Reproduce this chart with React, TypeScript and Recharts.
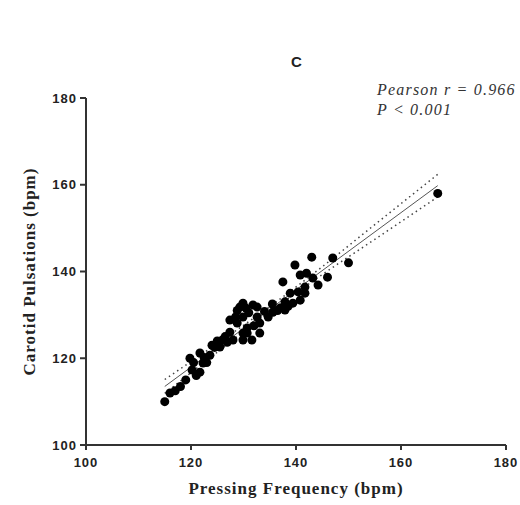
import { ComposedChart, Label, Line, Scatter, XAxis, YAxis } from "recharts";

// Pressing frequency (bpm) vs carotid pulsations (bpm), one entry per subject
const pressFreq = [
  115, 116, 117, 118, 119, 119.8, 120.2, 120.5, 121, 121.7, 121.7, 122.3, 122.5, 123, 123.6, 124, 124.5, 125,
  125.5, 126, 126.5, 126.9, 127.4, 127.4, 128, 128.5, 128.8, 128.8, 129.3, 129.9, 129.9, 129.9, 129.9, 130.5,
  130.7, 130.7, 131, 131.6, 131.8, 132, 132.6, 132.6, 133.1, 133.1, 134, 134.7, 135.5, 135.6, 136.5, 137, 137.5,
  137.9, 137.9, 138.5, 138.9, 139.4, 139.8, 140.4, 140.8, 140.8, 141.7, 141.7, 142, 143, 143.2, 144.2, 146, 147,
  150, 167
];
const carotid = [
  110, 112, 112.5, 113.5, 115, 120, 117.3, 119, 116, 116.8, 121.2, 118.9, 120.2, 119, 120.7, 123, 122.5, 124,
  122.6, 124.2, 125, 123.7, 126, 128.8, 124.2, 129.5, 128.1, 131, 131.8, 132.7, 129.5, 125.8, 124.2, 131.5,
  127, 125.8, 130.5, 124.2, 132.3, 127.5, 131.8, 129.5, 125.8, 128.1, 130.8, 129.5, 132.5, 130.6, 131, 131.6, 137.6,
  131.1, 133, 132, 135, 132.7, 141.5, 135.3, 133.4, 139.2, 136.4, 135, 139.6, 143.3, 138.5, 136.9, 138.7, 143.1,
  142, 158
];

// linear fit and its 95% confidence band
const fitX = [115, 167];
const fitY = [113.5, 159.8];
const bandX = [115, 125, 135, 145, 155, 167];
const bandUpper = [115.1, 123.4, 131.9, 141.1, 150.8, 162.4];
const bandLower = [111.9, 121.4, 130.7, 139.3, 147.4, 157.2];

const axisTicks = [100, 120, 140, 160, 180];

const points = pressFreq.map((x, i) => ({ x, y: carotid[i] }));
const fit = fitX.map((x, i) => ({ x, y: fitY[i] }));
const upper = bandX.map((x, i) => ({ x, y: bandUpper[i] }));
const lower = bandX.map((x, i) => ({ x, y: bandLower[i] }));

const tickStyle = {
  fontSize: 13,
  fill: "#222",
  fontFamily: "Liberation Sans, Arial, sans-serif",
  fontWeight: 700,
  letterSpacing: 1
};
const axisTitle = {
  fontSize: 17,
  fill: "#222",
  fontFamily: "Liberation Serif, Times New Roman, serif",
  fontWeight: 700,
  letterSpacing: 1
};

export default function App() {
  return (
    <div style={{ position: "absolute", left: 0, top: 0, width: 520, height: 505, background: "#fff", overflow: "hidden" }}>
      <ComposedChart width={520} height={505} margin={{ top: 98, right: 14, bottom: 30, left: 20 }}>
        <XAxis
          type="number"
          dataKey="x"
          domain={[100, 180]}
          ticks={axisTicks}
          allowDataOverflow
          height={30}
          tickSize={5}
          tickMargin={8}
          stroke="#333"
          strokeWidth={2}
          tick={tickStyle}
        >
          <Label value="Pressing Frequency (bpm)" position="bottom" offset={7} style={axisTitle} />
        </XAxis>
        <YAxis
          type="number"
          dataKey="y"
          domain={[100, 180]}
          ticks={axisTicks}
          allowDataOverflow
          width={66}
          tickSize={6}
          tickMargin={3}
          stroke="#333"
          strokeWidth={2}
          tick={tickStyle}
        >
          <Label value="Carotid Pulsations (bpm)" angle={-90} position="insideLeft" offset={9} style={{ ...axisTitle, textAnchor: "middle" }} />
        </YAxis>
        <Line data={upper} dataKey="y" type="monotone" stroke="#444" strokeWidth={1.5} strokeDasharray="1.5 3.5" dot={false} activeDot={false} isAnimationActive={false} />
        <Line data={lower} dataKey="y" type="monotone" stroke="#444" strokeWidth={1.5} strokeDasharray="1.5 3.5" dot={false} activeDot={false} isAnimationActive={false} />
        <Line data={fit} dataKey="y" type="linear" stroke="#555" strokeWidth={1} dot={false} activeDot={false} isAnimationActive={false} />
        <Scatter data={points} fill="#000" shape={(p: any) => <circle cx={p.cx} cy={p.cy} r={4.5} fill="#000" />} isAnimationActive={false} />
      </ComposedChart>
      <div style={{ position: "absolute", left: 291, top: 53, fontFamily: "Liberation Sans, Arial, sans-serif", fontWeight: 700, fontSize: 15, color: "#222" }}>
        C
      </div>
      <div
        style={{
          position: "absolute",
          left: 377,
          top: 80,
          fontFamily: "Liberation Serif, Times New Roman, serif",
          fontStyle: "italic",
          fontSize: 16,
          letterSpacing: 1.2,
          lineHeight: "20px",
          color: "#333",
          whiteSpace: "nowrap"
        }}
      >
        <div>Pearson r = 0.966</div>
        <div>P &lt; 0.001</div>
      </div>
    </div>
  );
}
